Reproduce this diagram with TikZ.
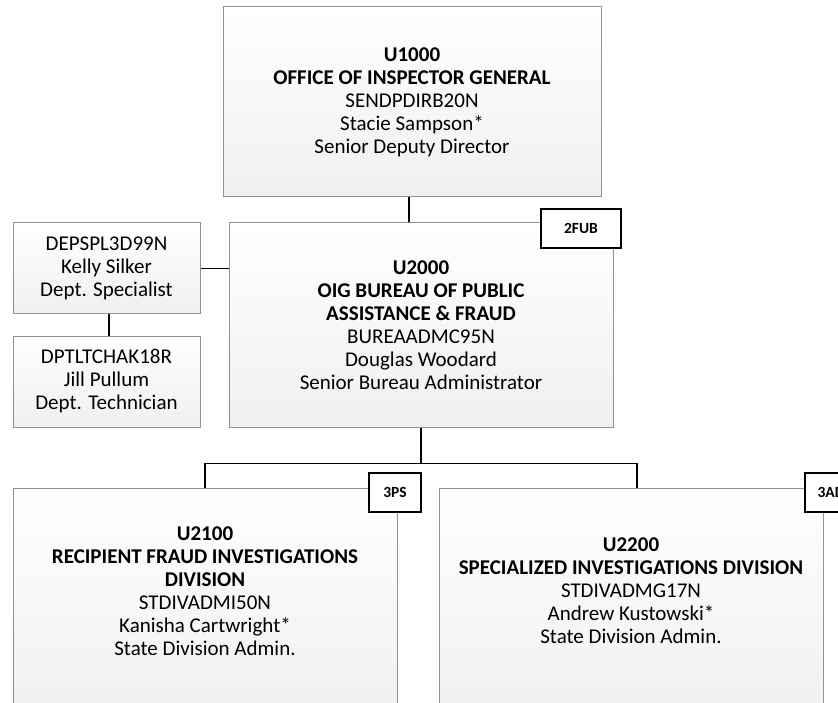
\documentclass[tikz,border=0pt]{standalone}
\usepackage{fontspec}
\setmainfont{Carlito}
\begin{document}
\begin{tikzpicture}[x=1pt,y=-1pt,
  box/.style={draw=gray!85,line width=1pt,top color=white,bottom color=gray!12,inner sep=0pt},
  txt/.style={align=center,font=\fontsize{21}{23}\selectfont},
  tag/.style={draw=black,line width=1.6pt,fill=white,font=\fontsize{15.5}{16}\selectfont\bfseries,inner sep=0pt,minimum height=39,minimum width=52},
  link/.style={line width=1.5pt}]
\useasboundingbox (0,0) rectangle (838,703);
\clip (0,0) rectangle (838,703);
% top
\node[box,txt,minimum width=378,minimum height=190] (oig) at (412,102) {\textbf{U1000}\\\textbf{OFFICE OF INSPECTOR GENERAL}\\SENDPDIRB20N\\Stacie Sampson*\\Senior Deputy Director};
% bureau
\node[box,txt,minimum width=384,minimum height=204] (bpa) at (421,325) {\textbf{U2000}\\\textbf{OIG BUREAU OF PUBLIC}\\\textbf{ASSISTANCE \& FRAUD}\\BUREAADMC95N\\Douglas Woodard\\Senior Bureau Administrator};
\node[box,txt,minimum width=187,minimum height=91] (kel) at (106.5,268.5) {DEPSPL3D99N\\Kelly Silker\\Dept. Specialist};
\node[box,txt,minimum width=187,minimum height=91] (jil) at (106.5,381.5) {DPTLTCHAK18R\\Jill Pullum\\Dept. Technician};
% divisions
\node[box,minimum width=384,minimum height=230] (rfi) at (205,603) {};
\node[txt] (rfitxt) at (205,591) {\textbf{U2100}\\\textbf{RECIPIENT FRAUD INVESTIGATIONS}\\\textbf{DIVISION}\\STDIVADMI50N\\Kanisha Cartwright*\\State Division Admin.};
\node[box,minimum width=384,minimum height=230] (sid) at (631,603) {};
\node[txt] (sidtxt) at (631,591) {\textbf{U2200}\\\textbf{SPECIALIZED INVESTIGATIONS DIVISION}\\STDIVADMG17N\\Andrew Kustowski*\\State Division Admin.};
% lines
\draw[link] ([xshift=-3]oig.south) -- ([xshift=-3]oig.south |- bpa.north);
\draw[link] (kel.east) -- (kel.east -| bpa.west);
\draw[link] ([xshift=2.5]kel.south) -- ([xshift=2.5]jil.north);
\draw[link] (bpa.south) -- ++(0,36) coordinate (split);
\draw[link] (rfi.north) |- (split) -| ([xshift=6]sid.north);
% tags
\node[tag,minimum width=80] (bpatag) at (581,228.5) {2FUB};
\node[tag] (rfitag) at (395,492.5) {3PS};
\node[tag] (sidtag) at (831,492.5) {3AD};
\end{tikzpicture}
\end{document}
